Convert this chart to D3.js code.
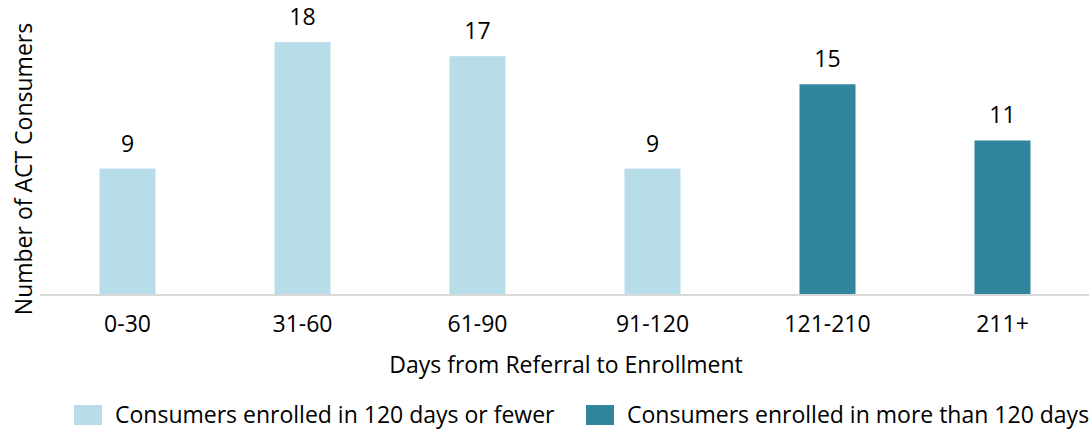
<!DOCTYPE html>
<html>
<head>
<meta charset="utf-8">
<script src="https://cdn.jsdelivr.net/npm/d3@7"></script>
<style>
  body { margin: 0; background: #fff; }
  text { font-family: "Open Sans", "Noto Sans", sans-serif; fill: #000; }
</style>
</head>
<body>
<div id="chart"></div>
<script>
const width = 1089;
const height = 430;

// data
const categories = ["0-30", "31-60", "61-90", "91-120", "121-210", "211+"];
const values = [9, 18, 17, 9, 15, 11];
const groups = ["short", "short", "short", "short", "long", "long"];
const legendLabels = ["Consumers enrolled in 120 days or fewer", "Consumers enrolled in more than 120 days"];

const color = d3.scaleOrdinal()
    .domain(["short", "long"])
    .range(["#b7dde8", "#31859c"]);

const fontSize = "23px";
const margin = {left: 40, right: -1, top: 0, bottom: 135};

const svg = d3.select("#chart")
    .append("svg")
    .attr("width", width)
    .attr("height", height);

const x = d3.scaleBand()
    .domain(categories)
    .range([margin.left, width - margin.right])
    .paddingInner(0.68)
    .paddingOuter(0.34);

const y = d3.scaleLinear()
    .domain([0, 21])
    .range([height - margin.bottom, 0]);

// bars
svg.append("g")
    .selectAll("rect")
    .data(values)
    .join("rect")
    .attr("x", (d, i) => x(categories[i]))
    .attr("y", d => y(d))
    .attr("width", x.bandwidth())
    .attr("height", d => y(0) - y(d))
    .attr("fill", (d, i) => color(groups[i]));

// value labels
svg.append("g")
    .selectAll("text")
    .data(values)
    .join("text")
    .attr("x", (d, i) => x(categories[i]) + x.bandwidth() / 2)
    .attr("y", d => y(d) - 17)
    .attr("text-anchor", "middle")
    .style("font-size", fontSize)
    .text(d => d);

// x axis
const xAxis = svg.append("g")
    .attr("transform", `translate(0,${y(0)})`)
    .call(d3.axisBottom(x).tickSize(0).tickPadding(21));
xAxis.select(".domain").attr("stroke", "#d9d9d9").attr("stroke-width", 2)
    .attr("d", `M${margin.left},0H${width}`);
xAxis.selectAll("text").style("font-size", fontSize).attr("font-family", null);

// axis titles
svg.append("text")
    .attr("x", 566)
    .attr("y", 373)
    .attr("text-anchor", "middle")
    .style("font-size", fontSize)
    .text("Days from Referral to Enrollment");

svg.append("text")
    .attr("transform", `translate(32,${169}) rotate(-90)`)
    .attr("text-anchor", "middle")
    .style("font-size", fontSize)
    .text("Number of ACT Consumers");

// legend
const legendX = [74, 586];
const legend = svg.append("g")
    .selectAll("g")
    .data(legendLabels)
    .join("g")
    .attr("transform", (d, i) => `translate(${legendX[i]},405)`);

legend.append("rect")
    .attr("width", 28)
    .attr("height", 20)
    .attr("fill", (d, i) => color(["short", "long"][i]));

legend.append("text")
    .attr("x", 41)
    .attr("y", 18)
    .style("font-size", fontSize)
    .text(d => d);
</script>
</body>
</html>
